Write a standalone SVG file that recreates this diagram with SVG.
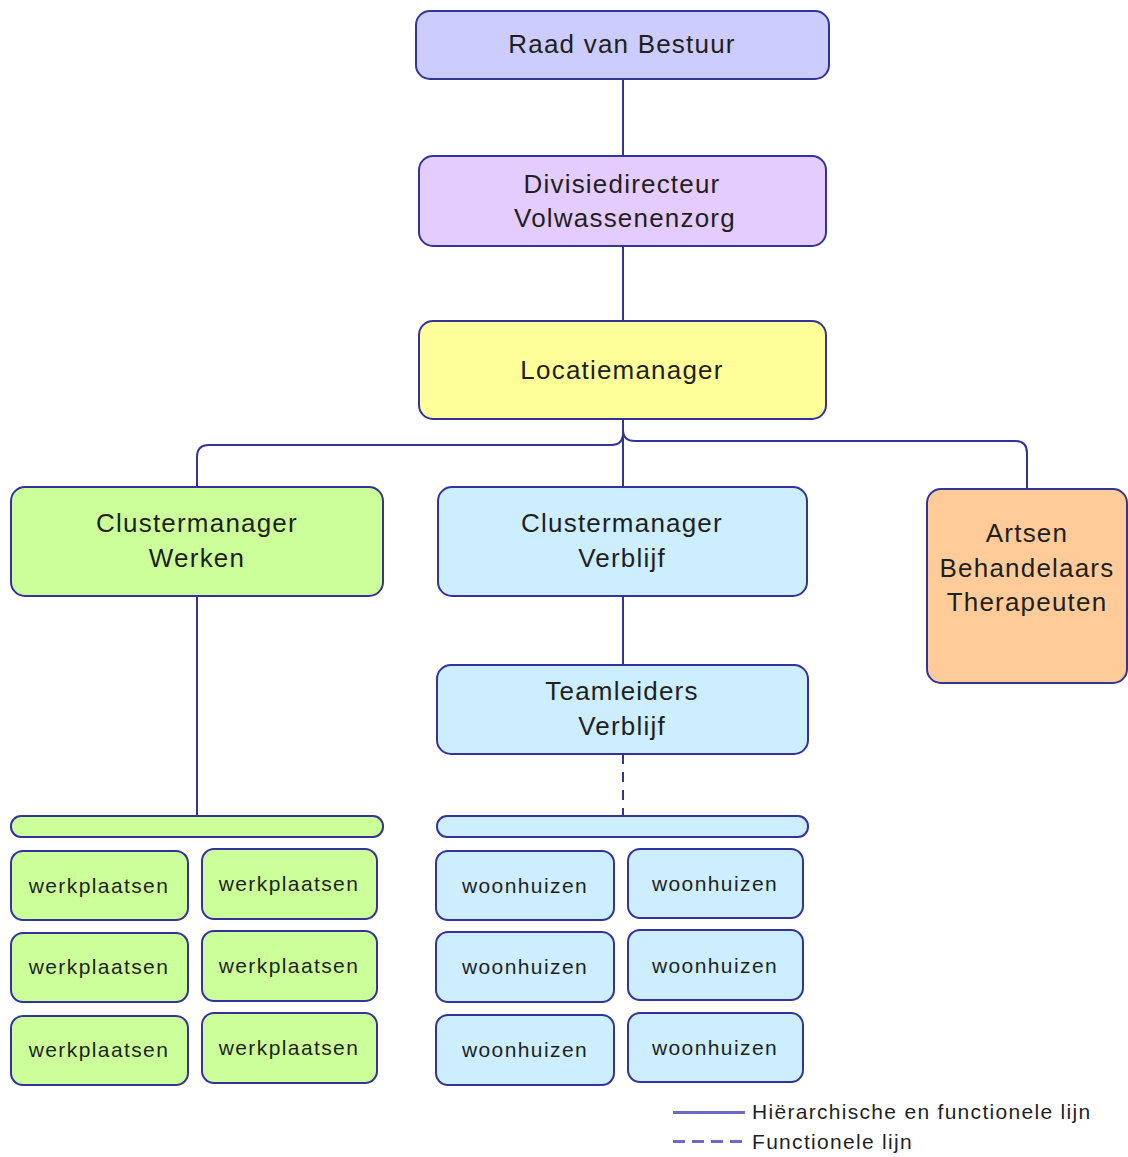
<svg xmlns="http://www.w3.org/2000/svg" width="1128" height="1157" viewBox="0 0 1128 1157">
  <style>
    .box { stroke: #333399; stroke-width: 2; }
    .t { font-family: "Liberation Sans", Arial, sans-serif; fill: #1f1f1f; text-anchor: middle; }
    .big { font-size: 26px; letter-spacing: 1.2px; }
    .small { font-size: 21px; letter-spacing: 1.4px; }
    .lg { font-family: "Liberation Sans", Arial, sans-serif; fill: #1f1f1f; font-size: 21px; letter-spacing: 1.3px; }
    .conn { fill: none; stroke: #333399; stroke-width: 2; }
    .dash { stroke-dasharray: 10 8; }
    .legend-line { fill: none; stroke: #6b6bc4; stroke-width: 3; }
    .purple { fill: #ccccff; }
    .lilac { fill: #e5ccff; }
    .yellow { fill: #ffff99; }
    .green { fill: #ccff99; }
    .blue { fill: #cceeff; }
    .orange { fill: #ffcc99; }
  </style>

  <rect width="1128" height="1157" fill="#ffffff"/>

  <!-- connectors -->
  <g id="connectors">
    <path class="conn" d="M623 79 V156"/>
    <path class="conn" d="M623 246 V321"/>
    <path class="conn" d="M623 419 V487"/>
    <path class="conn" d="M623 419 V433 Q623 445 611 445 H209 Q197 445 197 457 V487"/>
    <path class="conn" d="M623 419 V430 Q623 441 635 441 H1015 Q1027 441 1027 453 V489"/>
    <path class="conn" d="M197 596 V816"/>
    <path class="conn" d="M623 596 V665"/>
    <path class="conn dash" d="M623 754 V816"/>
  </g>

  <g id="raad-van-bestuur">
    <rect class="box purple" x="416" y="11" width="413" height="68" rx="14"/>
    <text class="t big" x="622" y="53">Raad van Bestuur</text>
  </g>

  <g id="divisiedirecteur">
    <rect class="box lilac" x="419" y="156" width="407" height="90" rx="14"/>
    <text class="t big" x="622" y="193">Divisiedirecteur</text>
    <text class="t big" x="625" y="227">Volwassenenzorg</text>
  </g>

  <g id="locatiemanager">
    <rect class="box yellow" x="419" y="321" width="407" height="98" rx="14"/>
    <text class="t big" x="622" y="379">Locatiemanager</text>
  </g>

  <g id="clustermanager-werken">
    <rect class="box green" x="11" y="487" width="372" height="109" rx="14"/>
    <text class="t big" x="197" y="532">Clustermanager</text>
    <text class="t big" x="197" y="567">Werken</text>
  </g>

  <g id="clustermanager-verblijf">
    <rect class="box blue" x="438" y="487" width="369" height="109" rx="14"/>
    <text class="t big" x="622" y="532">Clustermanager</text>
    <text class="t big" x="622" y="567">Verblijf</text>
  </g>

  <g id="artsen">
    <rect class="box orange" x="927" y="489" width="200" height="194" rx="14"/>
    <text class="t big" x="1027" y="542">Artsen</text>
    <text class="t big" x="1027" y="577">Behandelaars</text>
    <text class="t big" x="1027" y="611">Therapeuten</text>
  </g>

  <g id="teamleiders-verblijf">
    <rect class="box blue" x="437" y="665" width="371" height="89" rx="14"/>
    <text class="t big" x="622" y="700">Teamleiders</text>
    <text class="t big" x="622" y="735">Verblijf</text>
  </g>

  <g id="bar-werken">
    <rect class="box green" x="11" y="816" width="372" height="21" rx="10"/>
  </g>

  <g id="bar-verblijf">
    <rect class="box blue" x="437" y="816" width="371" height="21" rx="10"/>
  </g>

  <!-- workshops -->
  <g id="werkplaatsen-1">
    <rect class="box green" x="11" y="851" width="177" height="69" rx="12"/>
    <text class="t small" x="99" y="893">werkplaatsen</text>
  </g>
  <g id="werkplaatsen-2">
    <rect class="box green" x="202" y="849" width="175" height="70" rx="12"/>
    <text class="t small" x="289" y="891">werkplaatsen</text>
  </g>
  <g id="werkplaatsen-3">
    <rect class="box green" x="11" y="933" width="177" height="69" rx="12"/>
    <text class="t small" x="99" y="974">werkplaatsen</text>
  </g>
  <g id="werkplaatsen-4">
    <rect class="box green" x="202" y="931" width="175" height="70" rx="12"/>
    <text class="t small" x="289" y="973">werkplaatsen</text>
  </g>
  <g id="werkplaatsen-5">
    <rect class="box green" x="11" y="1016" width="177" height="69" rx="12"/>
    <text class="t small" x="99" y="1057">werkplaatsen</text>
  </g>
  <g id="werkplaatsen-6">
    <rect class="box green" x="202" y="1013" width="175" height="70" rx="12"/>
    <text class="t small" x="289" y="1055">werkplaatsen</text>
  </g>

  <!-- residences -->
  <g id="woonhuizen-1">
    <rect class="box blue" x="436" y="851" width="178" height="69" rx="12"/>
    <text class="t small" x="525" y="893">woonhuizen</text>
  </g>
  <g id="woonhuizen-2">
    <rect class="box blue" x="628" y="849" width="175" height="69" rx="12"/>
    <text class="t small" x="715" y="891">woonhuizen</text>
  </g>
  <g id="woonhuizen-3">
    <rect class="box blue" x="436" y="932" width="178" height="70" rx="12"/>
    <text class="t small" x="525" y="974">woonhuizen</text>
  </g>
  <g id="woonhuizen-4">
    <rect class="box blue" x="628" y="930" width="175" height="70" rx="12"/>
    <text class="t small" x="715" y="973">woonhuizen</text>
  </g>
  <g id="woonhuizen-5">
    <rect class="box blue" x="436" y="1015" width="178" height="70" rx="12"/>
    <text class="t small" x="525" y="1057">woonhuizen</text>
  </g>
  <g id="woonhuizen-6">
    <rect class="box blue" x="628" y="1013" width="175" height="69" rx="12"/>
    <text class="t small" x="715" y="1055">woonhuizen</text>
  </g>

  <!-- legend -->
  <g id="legend">
    <path class="legend-line" d="M673 1112.5 H745"/>
    <path class="legend-line" d="M673 1141.5 H745" stroke-dasharray="12 7"/>
    <text class="lg" x="752" y="1119">Hiërarchische en functionele lijn</text>
    <text class="lg" x="752" y="1149">Functionele lijn</text>
  </g>
</svg>
